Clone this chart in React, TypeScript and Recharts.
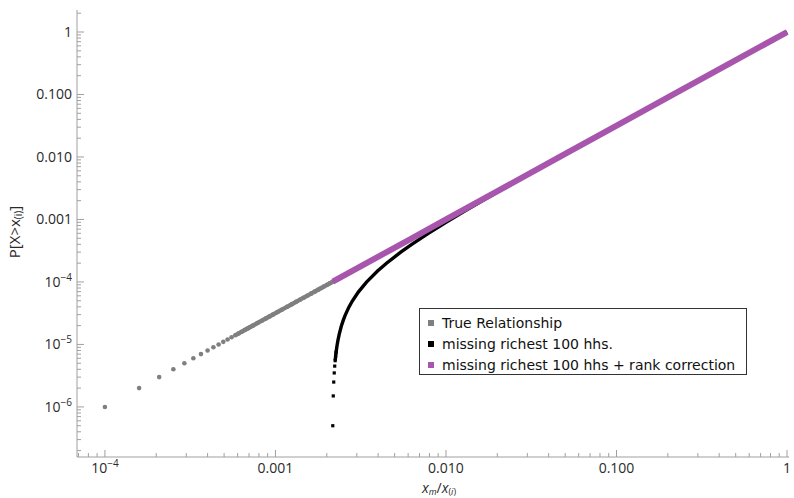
import { ScatterChart, Scatter, XAxis, YAxis } from 'recharts';

// true relationship: P[X > x(i)] for the poorest-ranked visible points (k = 1..100 of 1e6)
const trueP = [
  1e-6, 2e-6, 3e-6, 4e-6, 5e-6, 6e-6, 7e-6, 8e-6, 9e-6, 10e-6, 11e-6, 12e-6, 13e-6, 14e-6, 15e-6,
  16e-6, 17e-6, 18e-6, 19e-6, 20e-6, 22e-6, 24e-6, 26e-6, 28e-6, 30e-6, 33e-6, 36e-6, 40e-6, 44e-6,
  48e-6, 52e-6, 56e-6, 60e-6, 65e-6, 70e-6, 75e-6, 80e-6, 85e-6, 90e-6, 95e-6, 100e-6,
];
const trueX = [
  1.0e-4, 1.587e-4, 2.08e-4, 2.52e-4, 2.924e-4, 3.302e-4, 3.659e-4, 4.0e-4, 4.327e-4, 4.642e-4,
  4.946e-4, 5.241e-4, 5.529e-4, 5.809e-4, 6.082e-4, 6.35e-4, 6.611e-4, 6.868e-4, 7.12e-4, 7.368e-4,
  7.851e-4, 8.32e-4, 8.776e-4, 9.221e-4, 9.655e-4, 10.29e-4, 10.9e-4, 11.7e-4, 12.46e-4, 13.21e-4,
  13.93e-4, 14.64e-4, 15.33e-4, 16.17e-4, 16.98e-4, 17.78e-4, 18.57e-4, 19.33e-4, 20.08e-4,
  20.82e-4, 21.54e-4,
];

// missing richest 100 hhs
const missP = [
  0.5e-6, 1.5e-6, 2.5e-6, 3.5e-6, 4.5e-6, 5.5e-6, 6.5e-6, 7.5e-6, 9.5e-6, 11.5e-6, 14.5e-6, 19.5e-6,
  24.5e-6, 29.5e-6, 39.5e-6, 49.5e-6, 69.5e-6, 99.5e-6, 149.5e-6, 199.5e-6, 299.5e-6, 399.5e-6,
  599.5e-6, 899.5e-6, 1.3995e-3, 1.8995e-3, 2.8995e-3, 4.8995e-3, 9.8995e-3, 0.0299, 0.0999,
  0.2999, 0.9999,
];
const missX = [
  21.69e-4, 21.83e-4, 21.97e-4, 22.12e-4, 22.26e-4, 22.4e-4, 22.54e-4, 22.68e-4, 22.96e-4,
  23.24e-4, 23.65e-4, 24.33e-4, 25.0e-4, 25.66e-4, 26.96e-4, 28.23e-4, 30.69e-4, 34.2e-4,
  39.69e-4, 44.81e-4, 54.29e-4, 63.0e-4, 78.83e-4, 100e-4, 131e-4, 158.7e-4, 208e-4, 292.4e-4,
  464.2e-4, 965.5e-4, 2154e-4, 4481e-4, 1,
];

// missing richest 100 hhs + rank correction
const corrP = [1.01e-4, 2e-4, 5e-4, 1e-3, 3e-3, 0.01, 0.03, 0.1, 0.3, 1];
const corrX = [0.002169, 0.00342, 0.0063, 0.01, 0.0208, 0.04642, 0.09655, 0.2154, 0.448, 1];

const xMajor = [1e-5, 1e-4, 1e-3, 0.01, 0.1, 1];
const yMajor = [1e-7, 1e-6, 1e-5, 1e-4, 1e-3, 0.01, 0.1, 1];

const X_DOMAIN: [number, number] = [6.86e-5, 1.027];
const Y_DOMAIN: [number, number] = [1.58e-7, 2.25];

const GRAY = '#7f7f7f';
const PURPLE = '#a855ad';
const FRAME = '#a0a0a0';
const LABEL = '#2a2a2a';
const TICK_FONT = '"Open Sans", sans-serif';

const withMinors = (majors: number[], dom: [number, number]) =>
  majors
    .flatMap(d => [1, 2, 3, 4, 5, 6, 7, 8, 9].map(m => m * d))
    .filter(v => v >= dom[0] && v <= dom[1]);

const xTicks = withMinors(xMajor, X_DOMAIN);
const yTicks = withMinors(yMajor, Y_DOMAIN);

const toPts = (xs: number[], ps: number[]) => xs.map((x, i) => ({ x, y: ps[i] }));
const truePts = toPts(trueX, trueP);
const trueDense = truePts.slice(13);
const missPts = toPts(missX, missP);
const missDots = missPts.slice(0, 8);
const missCurve = missPts.slice(5);
const corrPts = toPts(corrX, corrP);

const isMajor = (v: number) => Math.abs(Math.log10(v) - Math.round(Math.log10(v))) < 1e-6;

function TickLabel({ v, x, y, anchor }: { v: number; x: number; y: number; anchor: 'middle' | 'end' }) {
  const e = Math.round(Math.log10(v));
  if (e >= -3) {
    return (
      <text x={x} y={y} textAnchor={anchor} fontFamily={TICK_FONT} fontSize={14} fill={LABEL}>
        {e === 0 ? '1' : v.toFixed(3)}
      </text>
    );
  }
  return (
    <text x={x} y={y} textAnchor={anchor} fontFamily={TICK_FONT} fontSize={14} fill={LABEL}>
      10<tspan dy={-6} fontSize={10}>{'\u2212' + -e}</tspan>
    </text>
  );
}

const BottomTick = (p: any) => {
  const v = p.payload.value;
  const major = isMajor(v);
  return (
    <g>
      <line x1={p.x} x2={p.x} y1={p.y} y2={p.y - (major ? 7 : 4)} stroke={FRAME} />
      {major && <TickLabel v={v} x={p.x} y={p.y + 16} anchor="middle" />}
    </g>
  );
};

const TopTick = (p: any) => {
  const major = isMajor(p.payload.value);
  return <line x1={p.x} x2={p.x} y1={p.y} y2={p.y + (major ? 7 : 4)} stroke={FRAME} />;
};

const LeftTick = (p: any) => {
  const v = p.payload.value;
  const major = isMajor(v);
  return (
    <g>
      <line x1={p.x} x2={p.x + (major ? 7 : 4)} y1={p.y} y2={p.y} stroke={FRAME} />
      {major && <TickLabel v={v} x={p.x - 5} y={p.y + 5} anchor="end" />}
    </g>
  );
};

const RightTick = (p: any) => {
  const major = isMajor(p.payload.value);
  return <line x1={p.x} x2={p.x - (major ? 7 : 4)} y1={p.y} y2={p.y} stroke={FRAME} />;
};

const noShape = () => <g />;

const legendItems = [
  { label: 'True Relationship', color: GRAY },
  { label: 'missing richest 100 hhs.', color: '#000' },
  { label: 'missing richest 100 hhs + rank correction', color: PURPLE },
];

export default function App() {
  const axisCommon = {
    type: 'number' as const,
    scale: 'log' as const,
    allowDataOverflow: true,
    interval: 0 as const,
    tickLine: false,
    tickSize: 0,
    tickMargin: 0,
    axisLine: { stroke: FRAME },
  };
  return (
    <div style={{ position: 'absolute', left: 0, top: 0, width: 794, height: 498, background: '#fff' }}>
      <ScatterChart width={794} height={498} margin={{ top: 10, right: 5, bottom: 0, left: 0 }}>
        <XAxis {...axisCommon} xAxisId="b" dataKey="x" domain={X_DOMAIN} ticks={xTicks} height={41} tick={BottomTick} />
        <XAxis {...axisCommon} xAxisId="t" orientation="top" dataKey="x" domain={X_DOMAIN} ticks={xTicks} height={0} tick={TopTick} />
        <YAxis {...axisCommon} yAxisId="l" dataKey="y" domain={Y_DOMAIN} ticks={yTicks} width={77} tick={LeftTick} />
        <YAxis {...axisCommon} yAxisId="r" orientation="right" dataKey="y" domain={Y_DOMAIN} ticks={yTicks} width={0} tick={RightTick} />

        <Scatter xAxisId="t" yAxisId="r" data={[]} isAnimationActive={false} />
        <Scatter
          xAxisId="b" yAxisId="l" data={trueDense} isAnimationActive={false} fill={GRAY}
          line={{ stroke: GRAY, strokeWidth: 4.4 }} lineType="joint" shape={noShape}
        />
        <Scatter
          xAxisId="b" yAxisId="l" data={truePts} isAnimationActive={false} fill={GRAY}
          shape={(p: any) => <circle cx={p.cx} cy={p.cy} r={2.3} fill={GRAY} />}
        />
        <Scatter
          xAxisId="b" yAxisId="l" data={missCurve} isAnimationActive={false} fill="#000"
          line={{ stroke: '#000', strokeWidth: 3.4 }} lineType="joint" shape={noShape}
        />
        <Scatter
          xAxisId="b" yAxisId="l" data={missDots} isAnimationActive={false} fill="#000"
          shape={(p: any) => <rect x={p.cx - 1.6} y={p.cy - 1.6} width={3.2} height={3.2} fill="#000" />}
        />
        <Scatter
          xAxisId="b" yAxisId="l" data={corrPts} isAnimationActive={false} fill={PURPLE}
          line={{ stroke: PURPLE, strokeWidth: 6 }} lineType="joint" shape={noShape}
        />
      </ScatterChart>

      <svg width={794} height={498} style={{ position: 'absolute', left: 0, top: 0, pointerEvents: 'none' }}>
        <text
          x={14} y={232} transform="rotate(-90, 14, 232)" textAnchor="middle" dominantBaseline="central"
          fontFamily={TICK_FONT} fontSize={15} fill={LABEL}
        >
          P[X&gt;x<tspan fontSize={10} dy={4}>(i)</tspan><tspan dy={-4}>]</tspan>
        </text>
        <text x={439} y={493} textAnchor="middle" fontFamily={TICK_FONT} fontSize={14} fill={LABEL}>
          <tspan fontStyle="italic">x</tspan>
          <tspan fontSize={9} dy={2} fontStyle="italic">m</tspan>
          <tspan dy={-2}>/</tspan>
          <tspan fontStyle="italic">x</tspan>
          <tspan fontSize={9} dy={2}>(<tspan fontStyle="italic">i</tspan>)</tspan>
        </text>
      </svg>

      <div
        style={{
          position: 'absolute', left: 419, top: 308, width: 326, height: 65,
          border: '1.5px solid #333', background: '#fff',
          fontFamily: '"DejaVu Sans", sans-serif', fontSize: 14, color: '#111',
        }}
      >
        {legendItems.map((it, i) => (
          <div key={i} style={{ position: 'absolute', left: 8, top: 4 + i * 21, height: 20, lineHeight: '20px', whiteSpace: 'nowrap' }}>
            <span style={{ display: 'inline-block', width: 6, height: 6, background: it.color, marginRight: 8, verticalAlign: 'middle', position: 'relative', top: -1 }} />
            {it.label}
          </div>
        ))}
      </div>
    </div>
  );
}
